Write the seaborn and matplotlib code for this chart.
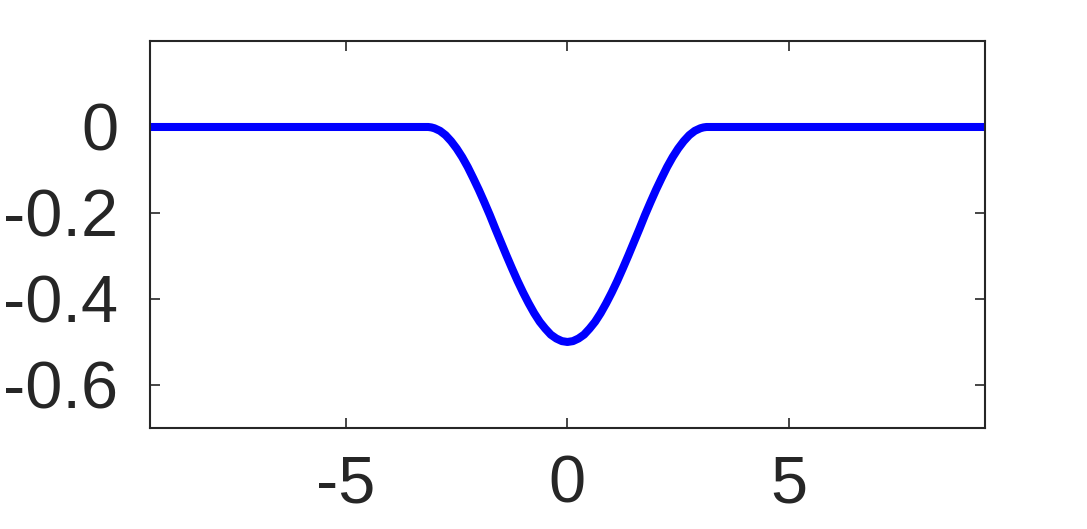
import matplotlib
matplotlib.use("Agg")
import matplotlib.pyplot as plt
import seaborn as sns
import pandas as pd

# values: flat at zero, a dip to -0.5 between about -3.14 and 3.14
x_vals = [-9.42, -3.14, -3.07, -3.0, -2.875, -2.75, -2.625, -2.5, -2.375, -2.25, -2.125, -2.0, -1.875,
          -1.75, -1.625, -1.5, -1.375, -1.25, -1.125, -1.0, -0.875, -0.75, -0.625, -0.5, -0.375, -0.25,
          -0.125, 0.0, 0.125, 0.25, 0.375, 0.5, 0.625, 0.75, 0.875, 1.0, 1.125, 1.25, 1.375, 1.5, 1.625,
          1.75, 1.875, 2.0, 2.125, 2.25, 2.375, 2.5, 2.625, 2.75, 2.875, 3.0, 3.07, 3.14, 9.42]
y_vals = [0.0, 0.0, -0.001, -0.003, -0.009, -0.019, -0.033, -0.05, -0.07, -0.093, -0.119, -0.146, -0.175,
          -0.205, -0.237, -0.268, -0.299, -0.329, -0.358, -0.385, -0.41, -0.433, -0.453, -0.469, -0.483, -0.492,
          -0.498, -0.5, -0.498, -0.492, -0.483, -0.469, -0.453, -0.433, -0.41, -0.385, -0.358, -0.329, -0.299,
          -0.268, -0.237, -0.205, -0.175, -0.146, -0.119, -0.093, -0.07, -0.05, -0.033, -0.019, -0.009, -0.003,
          -0.001, 0.0, 0.0]

x_ticks = [-5, 0, 5]
y_ticks = [0, -0.2, -0.4, -0.6]
y_tick_labels = ["0", "-0.2", "-0.4", "-0.6"]

sns.set_style("ticks")
plt.rcParams["font.family"] = ["Liberation Sans", "DejaVu Sans"]
plt.rcParams["axes.unicode_minus"] = False

df = pd.DataFrame({"x": x_vals, "y": y_vals})

fig = plt.figure(figsize=(10.87, 5.29), dpi=100)
ax = fig.add_axes([0.138, 0.191, 0.768, 0.7315])

sns.lineplot(data=df, x="x", y="y", ax=ax, color="#0000FF", linewidth=5.8, sort=False,
             solid_capstyle="round", solid_joinstyle="round")

ax.set_xlim(-9.42, 9.42)
ax.set_ylim(-0.7, 0.2)
ax.set_xticks(x_ticks)
ax.set_xticklabels([str(t) for t in x_ticks])
ax.set_yticks(y_ticks)
ax.set_yticklabels(y_tick_labels)
ax.set_xlabel("")
ax.set_ylabel("")

dark = "#262626"
for spine in ax.spines.values():
    spine.set_visible(True)
    spine.set_linewidth(1.5)
    spine.set_color(dark)

ax.tick_params(axis="both", direction="in", length=7, width=1.2, color=dark,
               labelsize=48, labelcolor=dark, top=True, right=True)
ax.tick_params(axis="y", pad=23)
ax.tick_params(axis="x", pad=19)

fig.savefig("out.png", dpi=100, facecolor="white")
plt.close()
